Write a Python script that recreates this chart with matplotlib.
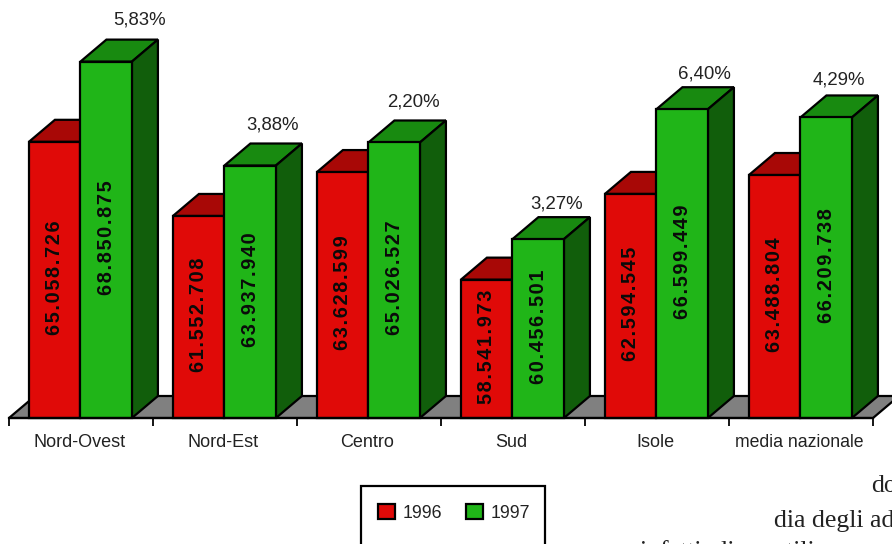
import numpy as np
import matplotlib
matplotlib.use("Agg")
import matplotlib.pyplot as plt
from matplotlib.patches import Rectangle

plt.rcParams['font.family'] = ['Liberation Sans', 'DejaVu Sans']

regions = ['Nord-Ovest', 'Nord-Est', 'Centro', 'Sud', 'Isole', 'media nazionale']
v1996 = [65058726, 61552708, 63628599, 58541973, 62594545, 63488804]
v1997 = [68850875, 63937940, 65026527, 60456501, 66599449, 66209738]
growth = ['5,83%', '3,88%', '2,20%', '3,27%', '6,40%', '4,29%']
years = ['1996', '1997']

# label offsets from the top of the green bar, in points
growth_dx = [24, 16, 14, 13, 16, 9]
growth_dy = [30, 29, 29, 25, 25, 27]

W, H = 892, 544
BASE = 52000000
PX_X = 144.0         # pixels per category
PX_Y = 21.15 / 1e6   # pixels per unit of value
X0, Y0 = 9, 418      # pixel of category 0 on the base line


def px_x(p):
    return (p - X0) / PX_X


def px_y(p):
    return BASE + (Y0 - p) / PX_Y


RED, RED_TOP = '#E00A08', '#A80806'
GREEN, GREEN_TOP, GREEN_SIDE = '#20B518', '#188A10', '#115E0B'
FLOOR = '#808080'
LW = 1.6

DX = 26 / PX_X
DY = 22 / PX_Y
BAR_W = 51.5 / PX_X

fig = plt.figure(figsize=(W / 100, H / 100), dpi=100)
ax = fig.add_axes([0, 0, 1, 1])
ax.set_xlim(px_x(0), px_x(W))
ax.set_ylim(px_y(H), px_y(0))

n = len(regions)
x = np.arange(n) + 0.496

# floor
ax.fill([0, DX, n + DX, n], [BASE, BASE + DY, BASE + DY, BASE],
        facecolor=FLOOR, edgecolor='black', lw=LW, zorder=1)


def box_3d(left, val, top_col, side_col, z):
    right = left + BAR_W
    ax.fill([left, left + DX, right + DX, right], [val, val + DY, val + DY, val],
            facecolor=top_col, edgecolor='black', lw=LW, zorder=z)
    ax.fill([right, right + DX, right + DX, right],
            [BASE, BASE + DY, val + DY, val],
            facecolor=side_col, edgecolor='black', lw=LW, zorder=z)


for i in range(n):
    box_3d(x[i] - BAR_W, v1996[i], RED_TOP, RED_TOP, 2)
    box_3d(x[i], v1997[i], GREEN_TOP, GREEN_SIDE, 4)

bars_96 = ax.bar(x - BAR_W / 2, np.array(v1996) - BASE, BAR_W, bottom=BASE, color=RED,
                 edgecolor='black', lw=LW, zorder=3, label=years[0])
bars_97 = ax.bar(x + BAR_W / 2, np.array(v1997) - BASE, BAR_W, bottom=BASE, color=GREEN,
                 edgecolor='black', lw=LW, zorder=5, label=years[1])


def fmt(v):
    # the source has wide letter spacing on these, hair spaces get close
    return '\u200a'.join(f'{v:,}'.replace(',', '.'))


for bars, vals in ((bars_96, v1996), (bars_97, v1997)):
    labels = ax.bar_label(bars, [fmt(v) for v in vals], label_type='center', rotation=90,
                          fontsize=14.3, fontweight='bold', color='#0a0a0a')
    for t in labels:
        t.set_zorder(7)
        t.xyann = (0, 1.5)

for i in range(n):
    ax.annotate(growth[i], (x[i] + BAR_W / 2, v1997[i]),
                xytext=(growth_dx[i], growth_dy[i]), textcoords='offset points',
                ha='center', va='center', fontsize=13.4, color='#222222', zorder=7)

# axis with ticks between the groups
for s in ('left', 'right', 'top'):
    ax.spines[s].set_visible(False)
ax.spines['bottom'].set_position(('data', BASE))
ax.spines['bottom'].set_bounds(0, n)
ax.spines['bottom'].set_linewidth(LW)
ax.spines['bottom'].set_zorder(6)
ax.set_yticks([])
ax.set_xticks(np.arange(n + 1))
ax.set_xticklabels([])
ax.tick_params(axis='x', which='major', length=6, width=LW * 0.8, direction='out')
ax.set_xticks(np.arange(n) + 0.49, minor=True)
ax.set_xticklabels(regions, minor=True, fontsize=13, color='#222222')
ax.tick_params(axis='x', which='minor', length=0, pad=11.5)
ax.get_xticklabels(minor=True)[-1].set_fontsize(12.7)

# legend box runs off the bottom of the picture
ax.add_patch(Rectangle((px_x(360.5), px_y(560)), px_x(545) - px_x(360.5), px_y(486) - px_y(560),
                       facecolor='white', edgecolor='black', lw=LW, zorder=8))
leg = ax.legend(handles=[bars_96, bars_97], labels=years, ncol=2, frameon=False,
                loc='center', bbox_to_anchor=(454 / W, 1 - 513 / H), fontsize=12.8,
                handlelength=0.95, handleheight=0.95, handletextpad=0.42, columnspacing=1.35,
                labelcolor='#222222')
leg.set_zorder(9)

# bit of the page text around the chart
serif = ['Liberation Serif', 'DejaVu Serif']
ax.text(px_x(871), px_y(492), 'do', family=serif, fontsize=18.5, color='#222222')
ax.text(px_x(774), px_y(527), 'dia degli ad', family=serif, fontsize=18.5, color='#222222')
ax.text(px_x(640), px_y(558), 'infatti, di un utili', family=serif, fontsize=18.5, color='#222222')

fig.savefig('out.png', dpi=100)
